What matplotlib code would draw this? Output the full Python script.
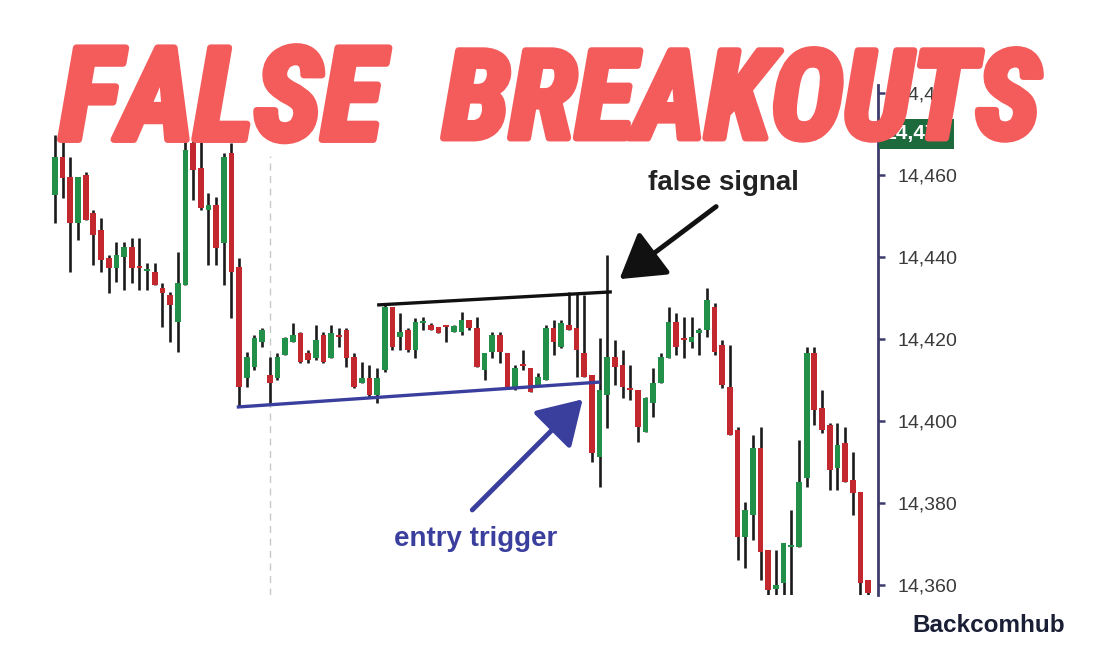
import matplotlib
matplotlib.use("Agg")
import matplotlib.pyplot as plt
from matplotlib import patheffects as pe
from matplotlib.transforms import blended_transform_factory

# ---------------- data ----------------
opens = [14455.1, 14464.4, 14459.5, 14448.3, 14460.0, 14450.7, 14446.6, 14439.8, 14437.3, 14440.0,
         14442.4, 14437.8, 14436.5, 14436.3, 14432.4, 14430.7, 14424.1, 14433.2, 14467.8, 14461.7,
         14451.5, 14452.7, 14443.4, 14465.4, 14437.6, 14410.5, 14413.2, 14419.3, 14411.2, 14410.5,
         14416.1, 14419.3, 14421.5, 14416.6, 14415.4, 14421.0, 14415.4, 14420.6, 14422.2, 14415.6,
         14409.3, 14410.5, 14406.3, 14412.4, 14427.8, 14420.5, 14422.2, 14417.3, 14424.0, 14423.4,
         14422.9, 14423.1, 14421.7, 14421.7, 14424.6, 14422.7, 14412.4, 14416.8, 14421.0, 14416.6,
         14408.3, 14413.5, 14412.9, 14408.8, 14410.0, 14422.7, 14418.0, 14423.4, 14422.7, 14416.6,
         14411.2, 14391.2, 14406.3, 14415.6, 14413.7, 14407.7, 14407.6, 14397.3, 14404.4, 14409.3,
         14415.4, 14424.1, 14419.9, 14419.3, 14421.5, 14422.2, 14427.8, 14418.5, 14408.3, 14397.8,
         14371.7, 14377.1, 14393.4, 14368.5, 14359.0, 14360.5, 14369.2, 14369.3, 14386.1, 14416.6,
         14403.2, 14399.0, 14388.5, 14394.6, 14385.6, 14382.7, 14361.2]
highs = [14469.8, 14469.3, 14464.4, 14459.5, 14460.7, 14451.5, 14449.5, 14440.5, 14443.7, 14443.7,
         14444.6, 14444.6, 14438.5, 14438.5, 14433.7, 14431.5, 14441.2, 14471.5, 14468.5, 14468.0,
         14455.6, 14454.6, 14465.4, 14467.8, 14439.8, 14416.8, 14421.0, 14422.7, 14415.6, 14416.6,
         14420.5, 14423.9, 14421.7, 14417.3, 14423.4, 14421.7, 14423.4, 14422.7, 14422.7, 14416.6,
         14414.4, 14413.7, 14412.9, 14428.3, 14427.8, 14426.3, 14422.7, 14425.1, 14425.4, 14423.9,
         14423.0, 14423.2, 14423.4, 14426.6, 14424.6, 14425.4, 14416.6, 14421.7, 14421.7, 14416.6,
         14413.7, 14417.3, 14412.9, 14411.7, 14423.4, 14424.6, 14424.6, 14431.5, 14431.2, 14430.7,
         14411.2, 14420.2, 14440.5, 14419.8, 14417.3, 14413.7, 14407.6, 14405.9, 14412.9, 14416.6,
         14427.8, 14426.3, 14425.4, 14425.4, 14422.7, 14432.4, 14428.8, 14419.8, 14418.5, 14398.5,
         14380.2, 14396.6, 14398.5, 14368.5, 14368.5, 14370.2, 14378.3, 14395.4, 14418.0, 14418.0,
         14407.6, 14399.5, 14399.5, 14398.5, 14392.4, 14382.7, 14361.2]
lows = [14448.3, 14454.4, 14436.3, 14444.1, 14449.0, 14438.0, 14436.3, 14431.2, 14433.9, 14432.0,
        14433.7, 14432.0, 14432.0, 14433.2, 14422.9, 14419.3, 14416.8, 14433.2, 14453.9, 14451.5,
        14438.0, 14438.0, 14433.2, 14425.1, 14403.4, 14408.3, 14412.4, 14418.0, 14403.9, 14410.0,
        14416.1, 14419.3, 14414.1, 14414.1, 14414.9, 14414.1, 14415.4, 14418.0, 14413.2, 14408.0,
        14409.3, 14405.9, 14404.4, 14412.0, 14417.3, 14417.3, 14416.8, 14415.4, 14422.2, 14422.2,
        14421.5, 14419.3, 14421.7, 14421.0, 14422.2, 14413.2, 14410.0, 14415.4, 14414.1, 14408.3,
        14407.6, 14412.4, 14407.1, 14408.8, 14410.0, 14416.1, 14417.8, 14422.2, 14410.7, 14410.7,
        14390.0, 14383.9, 14398.3, 14408.8, 14405.6, 14405.1, 14394.9, 14397.3, 14401.0, 14409.3,
        14415.4, 14416.1, 14415.4, 14417.8, 14416.1, 14420.5, 14416.1, 14408.0, 14396.6, 14366.1,
        14364.1, 14371.0, 14361.2, 14357.0, 14357.0, 14357.0, 14357.5, 14369.3, 14383.9, 14399.0,
        14397.1, 14383.2, 14383.2, 14385.1, 14377.1, 14357.0, 14357.0]
closes = [14464.4, 14459.3, 14448.3, 14459.5, 14449.0, 14445.4, 14439.3, 14437.3, 14440.5, 14442.4,
          14437.3, 14437.3, 14437.0, 14433.2, 14431.2, 14428.3, 14433.7, 14466.1, 14461.2, 14452.0,
          14452.7, 14442.2, 14464.4, 14436.3, 14408.3, 14415.6, 14420.2, 14422.2, 14409.3, 14415.6,
          14420.2, 14421.0, 14414.4, 14414.9, 14419.8, 14414.4, 14421.5, 14420.4, 14415.4, 14408.3,
          14410.5, 14406.3, 14410.5, 14427.8, 14418.0, 14421.7, 14417.3, 14424.1, 14424.2, 14422.2,
          14421.5, 14422.9, 14423.2, 14424.6, 14422.7, 14413.2, 14416.6, 14421.0, 14416.8, 14408.3,
          14412.9, 14413.3, 14407.1, 14410.7, 14422.7, 14419.3, 14423.9, 14422.2, 14417.3, 14410.7,
          14392.2, 14407.6, 14415.6, 14413.2, 14408.3, 14407.5, 14398.5, 14405.6, 14409.3, 14415.6,
          14424.1, 14418.0, 14419.7, 14420.5, 14422.2, 14429.5, 14416.8, 14408.8, 14396.6, 14371.7,
          14378.3, 14393.4, 14368.0, 14358.8, 14360.0, 14370.2, 14369.4, 14385.1, 14416.6, 14402.7,
          14397.8, 14388.0, 14394.1, 14385.1, 14382.4, 14360.5, 14358.0]

tick_values = [14360, 14380, 14400, 14420, 14440, 14460, 14480]
tick_labels = ["14,360", "14,380", "14,400", "14,420", "14,440", "14,460", "14,480"]
last_price = 14470
last_label = "14,470"

# ---------------- figure ----------------
fig = plt.figure(figsize=(11, 6.6), dpi=100)
fig.patch.set_facecolor("white")
ax = fig.add_axes([50 / 1100, 65 / 660, 828 / 1100, 510 / 660])
ax.set_facecolor("white")

GREEN = "#23904a"
RED = "#c3282e"
idx = list(range(len(opens)))
bottoms = [min(o, c) for o, c in zip(opens, closes)]
heights = [max(abs(c - o), 0.5) for o, c in zip(opens, closes)]
colors = [GREEN if c >= o else RED for o, c in zip(opens, closes)]

ax.vlines(idx, lows, highs, color="#1b1b1b", lw=1.9, zorder=2)
ax.bar(idx, heights, bottom=bottoms, width=0.74, color=colors, zorder=3, linewidth=0)

ax.set_xlim(-0.65, 107.3)
ax.set_ylim(14357.56, 14481.95)

for s in ["left", "top", "bottom"]:
    ax.spines[s].set_visible(False)
ax.spines["right"].set_color("#3c3c6c")
ax.spines["right"].set_linewidth(2)
ax.set_xticks([])
ax.yaxis.tick_right()
ax.set_yticks(tick_values)
ax.set_yticklabels(tick_labels)
ax.tick_params(axis="y", direction="out", length=5, width=1.8, color="#3c3c6c",
               labelsize=14, labelcolor="#3a3a3a", pad=9)
for t in ax.get_yticklabels():
    t.set_fontfamily("Liberation Sans")

# dashed vertical line
ax.axvline(28, ymin=0.0, ymax=0.86, color="#c8c8c8", lw=1, ls=(0, (5, 4)), zorder=1)

# resistance / support lines
ax.plot([42.0, 72.6], [14428.3, 14431.5], color="#111111", lw=2.4, zorder=4, solid_capstyle="butt")
ax.plot([23.7, 71.1], [14403.4, 14409.5], color="#3a3f9e", lw=2.4, zorder=4, solid_capstyle="butt")

# arrows
ax.annotate("", xy=(73.6, 14434.6), xytext=(86.2, 14452.3),
            arrowprops=dict(arrowstyle="-|>,head_length=0.9,head_width=0.55", lw=3.5,
                            color="#111111", mutation_scale=30, shrinkA=0, shrinkB=0), zorder=5)
ax.annotate("", xy=(68.8, 14405.3), xytext=(54.4, 14378.3),
            arrowprops=dict(arrowstyle="-|>,head_length=0.9,head_width=0.55", lw=3.5,
                            color="#3a3f9e", mutation_scale=30, shrinkA=0, shrinkB=0), zorder=5)

ax.text(87.1, 14458.0, "false signal", ha="center", va="center", fontsize=20,
        fontweight="bold", color="#222222", family="Liberation Sans", zorder=6)
ax.text(54.8, 14371.3, "entry trigger", ha="center", va="center", fontsize=20,
        fontweight="bold", color="#3a3f9e", family="Liberation Sans", zorder=6)

# last price box
trans = blended_transform_factory(ax.transAxes, ax.transData)
ax.text(1.008, last_price, last_label, transform=trans, ha="left", va="center",
        fontsize=15, fontweight="bold", color="white", family="Liberation Sans",
        bbox=dict(boxstyle="square,pad=0.25", fc="#1d6a3c", ec="none"), clip_on=False, zorder=6)

# title, fitted to the width the words take in the picture
TITLE = "#f45b5b"
fx = [pe.withStroke(linewidth=5, foreground=TITLE)]
fam = ["DejaVu Sans Condensed", "Roboto Condensed", "Liberation Sans Narrow", "DejaVu Sans"]
words = [("FALSE", 60, 383), ("BREAKOUTS", 443, 1040)]
ttexts = []
for w, x0, x1 in words:
    t = fig.text(x0 / 1100, 1 - 104 / 660, w, ha="left", va="center", fontsize=80,
                 fontweight="heavy", style="italic", color=TITLE, family=fam,
                 path_effects=fx, zorder=10)
    ttexts.append((t, x1 - x0))
fig.canvas.draw()
r = fig.canvas.get_renderer()
for t, target in ttexts:
    wpx = t.get_window_extent(r).width
    t.set_fontsize(80 * target / wpx)

# watermark
fig.text(1065 / 1100, 1 - 626 / 660, "Backcomhub", ha="right", va="center", fontsize=17.5,
         fontweight="bold", color="#1a1f36", family="Liberation Sans")

fig.savefig("out.png", dpi=100, facecolor="white")
